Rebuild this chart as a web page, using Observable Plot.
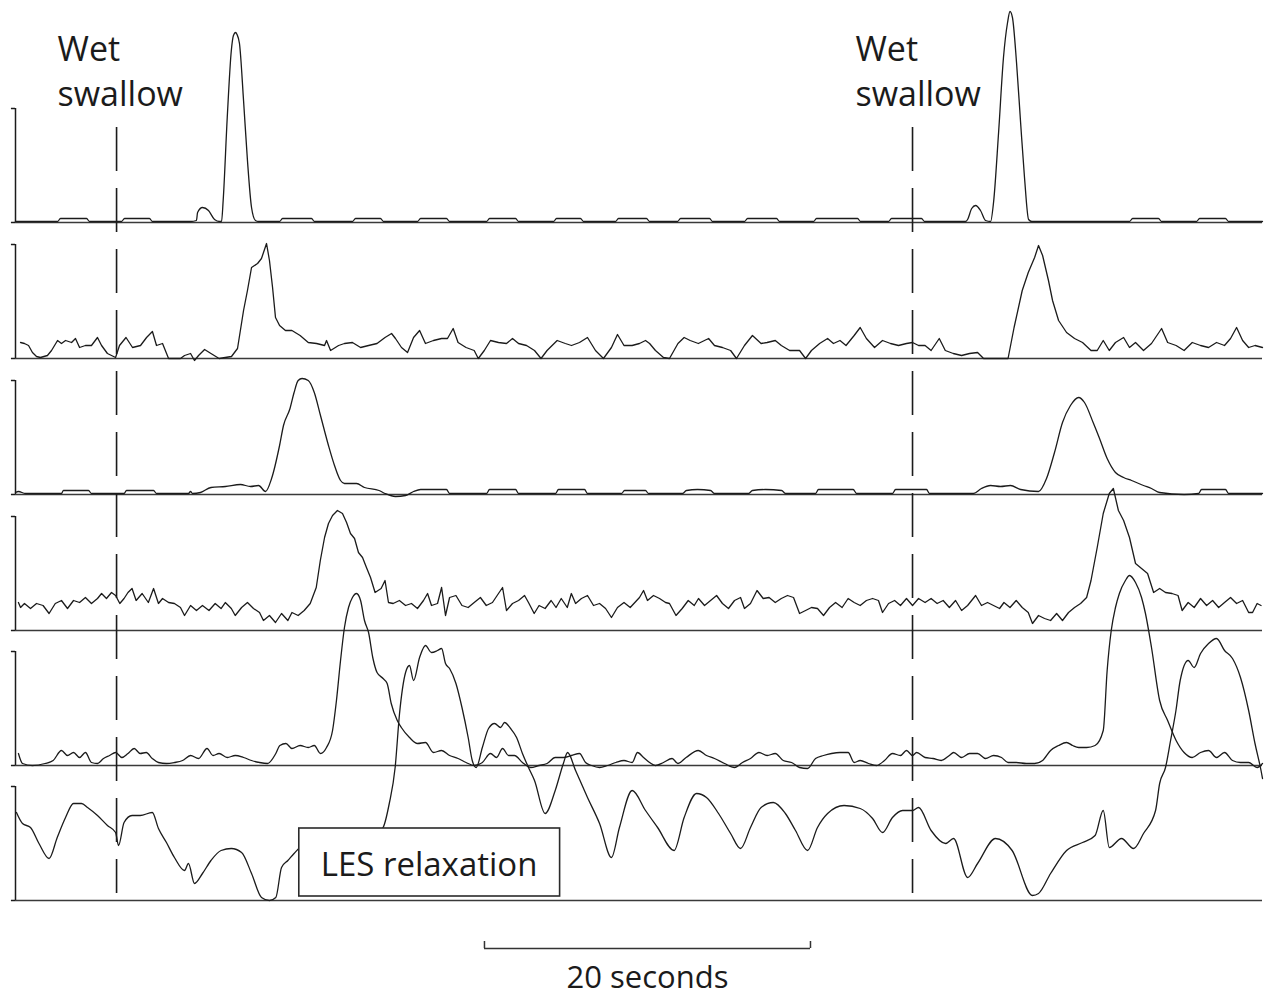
<!DOCTYPE html>
<html><head><meta charset="utf-8">
<script src="https://cdn.jsdelivr.net/npm/d3@7"></script>
<script src="https://cdn.jsdelivr.net/npm/@observablehq/plot@0.6"></script>
<style>body{margin:0;background:#fff}</style>
</head><body><div id="chart"></div>
<script>
const channels = ["P1", "P2", "P3", "P4", "P5", "LES"];

const ch1 = [[0,1],[2.58,1],[2.76,4],[4.36,4],[4.54,1],[6.50,1],[6.69,4],[8.22,4],[8.40,1],[10.74,1],[11.10,2],[11.17,10],[11.47,15],[11.84,12],[12.21,3],[12.52,1],[12.64,1],[12.74,22],[12.99,105],[13.24,172],[13.37,187],[13.50,190],[13.59,188],[13.74,179],[13.99,122],[14.23,62],[14.48,15],[14.72,2],[14.9,1],[16.20,1],[16.38,4],[18.16,4],[18.34,1],[20.67,1],[20.86,4],[22.39,4],[22.58,1],[24.66,1],[24.85,4],[26.44,4],[26.63,1],[28.90,1],[29.08,4],[30.68,4],[30.86,1],[33.01,1],[33.19,4],[34.66,4],[34.85,1],[36.81,1],[36.99,4],[38.71,4],[38.90,1],[40.61,1],[40.80,4],[42.58,4],[42.76,1],[44.72,1],[44.91,4],[46.69,4],[46.87,1],[48.96,1],[49.14,4],[51.66,4],[51.84,1],[53.56,1],[53.74,4],[55.58,4],[55.77,1],[58.28,1],[58.41,3],[58.66,14],[58.90,17],[59.20,12],[59.51,2],[59.82,1],[60.00,20],[60.31,90],[60.61,165],[60.86,200],[61.01,211],[61.16,205],[61.41,160],[61.66,100],[61.90,45],[62.15,3],[62.35,1],[68.34,1],[68.53,4],[70.12,4],[70.31,1],[72.45,1],[72.64,4],[74.23,4],[74.42,1],[76.5,1]];

const ch2 = [[0.31,16],[0.55,15],[0.80,13],[1.04,6],[1.29,2],[1.53,1],[1.96,3],[2.21,8],[2.58,18],[2.82,15],[3.07,18],[3.44,16],[3.68,20],[3.93,11],[4.29,13],[4.66,13],[5.03,21],[5.28,13],[5.64,5],[6.14,1],[6.38,13],[6.78,21],[7.18,11],[7.67,13],[8.04,21],[8.40,27],[8.65,13],[9.02,15],[9.39,0],[10.12,0],[10.37,3],[10.74,5],[10.98,-2],[11.23,3],[11.60,9],[11.99,5],[12.49,0],[13.25,2],[13.62,10],[13.99,48],[14.23,68],[14.48,91],[14.85,95],[15.09,100],[15.40,115],[15.58,98],[15.77,71],[15.95,41],[16.20,33],[16.56,28],[16.96,28],[17.46,23],[17.96,16],[18.47,15],[18.96,13],[19.08,18],[19.33,8],[19.82,13],[20.18,15],[20.67,16],[21.17,11],[21.66,13],[22.18,15],[22.67,21],[23.07,25],[23.31,20],[23.68,11],[24.05,6],[24.42,21],[24.79,28],[25.15,15],[25.64,18],[26.14,20],[26.50,20],[26.85,30],[27.15,16],[27.64,11],[28.14,8],[28.39,0],[28.76,8],[29.14,18],[29.63,16],[30.12,15],[30.49,20],[30.86,15],[31.35,13],[31.84,8],[32.24,0],[32.61,8],[33.23,18],[33.73,15],[34.11,13],[34.60,16],[35.09,21],[35.58,8],[36.07,0],[36.56,11],[36.93,24],[37.33,13],[37.83,13],[38.28,15],[38.65,18],[38.90,15],[39.26,8],[39.75,1],[40.12,0],[40.64,15],[41.02,21],[41.39,18],[41.89,15],[42.52,20],[42.88,13],[43.37,11],[43.87,8],[44.23,0],[44.72,13],[45.21,23],[45.74,15],[46.11,16],[46.61,18],[46.98,13],[47.49,8],[48.10,8],[48.47,0],[48.83,8],[49.33,15],[49.82,20],[50.18,15],[50.58,18],[50.95,13],[51.45,23],[51.82,31],[52.20,20],[52.70,11],[53.19,18],[53.68,15],[54.17,13],[54.66,15],[55.03,16],[55.40,13],[55.80,13],[56.17,8],[56.67,20],[57.04,8],[57.53,5],[58.04,3],[58.53,5],[59.02,6],[59.39,0],[60.89,0],[61.26,31],[61.76,68],[62.13,86],[62.52,101],[62.76,113],[63.01,103],[63.37,78],[63.62,58],[63.99,38],[64.48,26],[64.97,20],[65.46,16],[65.98,8],[66.36,8],[66.73,18],[67.10,8],[67.48,16],[67.98,21],[68.34,11],[68.71,16],[69.20,8],[69.69,15],[70.31,30],[70.68,16],[71.20,13],[71.69,8],[72.19,16],[72.70,13],[73.19,11],[73.68,16],[74.17,13],[74.54,20],[74.91,31],[75.28,18],[75.65,11],[76.04,13],[76.50,11]];

const ch3 = [[0,2],[0.18,3],[0.61,1],[2.82,1],[2.94,4],[4.48,4],[4.66,1],[6.66,1],[6.81,4],[8.47,4],[8.65,1],[10.61,1],[10.74,3],[10.86,1],[11.35,2],[11.99,7],[12.88,8],[13.80,10],[14.42,8],[14.91,9],[15.34,3],[15.71,16],[16.20,49],[16.44,69],[16.84,86],[17.09,102],[17.34,114],[17.58,116],[17.96,114],[18.33,102],[18.71,79],[19.20,49],[19.57,29],[19.94,14],[20.18,11],[20.92,11],[21.41,7],[22.30,4],[22.67,1],[23.31,-2],[23.93,-1],[24.42,3],[24.85,5],[26.44,5],[26.63,1],[28.90,1],[29.08,5],[30.68,5],[30.86,1],[33.13,1],[33.31,5],[34.91,5],[35.09,1],[37.18,1],[37.36,4],[38.65,4],[38.83,1],[40.92,1],[41.16,4],[41.84,5],[42.64,4],[42.88,1],[44.97,1],[45.21,4],[46.01,5],[47.00,4],[47.24,1],[49.08,1],[49.26,5],[51.39,5],[51.60,1],[53.80,1],[53.99,5],[55.89,5],[56.07,1],[58.77,1],[59.26,6],[59.82,9],[60.43,8],[61.04,9],[61.66,5],[62.76,3],[63.25,16],[63.74,42],[64.23,72],[64.72,89],[65.22,97],[65.58,92],[66.11,72],[66.48,57],[66.97,36],[67.48,22],[67.98,17],[68.47,14],[69.20,9],[69.69,6],[70.19,2],[71.69,0],[72.58,1],[72.76,5],[74.23,5],[74.42,1],[76.50,1]];

const ch4 = [[0.18,28],[0.31,23],[0.55,27],[0.92,22],[1.29,27],[1.69,25],[2.06,17],[2.44,27],[2.82,30],[3.19,22],[3.56,30],[3.93,28],[4.29,33],[4.66,27],[5.03,32],[5.28,37],[5.58,32],[5.89,38],[6.14,35],[6.40,27],[6.66,32],[6.90,38],[7.15,42],[7.40,30],[7.77,37],[8.15,28],[8.47,42],[8.77,27],[9.02,32],[9.39,28],[9.75,27],[10.12,23],[10.37,15],[10.74,25],[11.10,20],[11.47,25],[11.87,20],[12.25,27],[12.61,22],[12.87,28],[13.24,22],[13.48,15],[13.87,23],[14.23,28],[14.60,22],[14.97,18],[15.21,10],[15.58,15],[15.95,8],[16.32,17],[16.71,10],[16.96,18],[17.34,15],[17.71,20],[18.08,27],[18.45,43],[18.70,70],[18.96,93],[19.20,107],[19.45,115],[19.75,120],[20.06,117],[20.31,108],[20.55,97],[20.80,92],[21.04,78],[21.29,73],[21.53,63],[21.78,53],[22.06,38],[22.43,42],[22.67,50],[22.88,28],[23.17,27],[23.55,30],[23.93,25],[24.29,27],[24.66,22],[25.03,30],[25.28,37],[25.52,25],[25.89,27],[26.14,43],[26.38,15],[26.63,33],[27.02,35],[27.39,25],[27.77,23],[28.14,28],[28.52,33],[28.88,25],[29.26,28],[29.63,37],[29.88,43],[30.12,20],[30.49,27],[30.86,30],[31.23,35],[31.47,28],[31.82,17],[32.12,25],[32.49,22],[32.86,30],[33.16,23],[33.48,32],[33.85,23],[34.10,37],[34.36,27],[34.72,32],[35.09,35],[35.46,25],[35.83,27],[36.20,22],[36.56,13],[36.93,23],[37.33,28],[37.71,23],[38.28,33],[38.53,40],[38.77,30],[39.14,35],[39.51,32],[39.88,28],[40.12,27],[40.52,15],[40.90,22],[41.27,30],[41.64,25],[41.90,32],[42.27,25],[42.64,30],[43.01,35],[43.37,27],[43.74,22],[44.11,30],[44.48,33],[44.72,22],[45.09,27],[45.49,40],[45.87,32],[46.23,33],[46.61,28],[46.98,32],[47.36,35],[47.73,33],[48.10,17],[48.47,20],[48.83,23],[49.20,22],[49.57,15],[49.94,23],[50.31,28],[50.71,23],[51.08,32],[51.45,28],[51.82,25],[52.20,30],[52.58,32],[52.94,30],[53.19,18],[53.56,27],[53.93,30],[54.29,25],[54.66,32],[55.03,25],[55.40,32],[55.80,28],[56.17,32],[56.54,27],[56.91,30],[57.29,23],[57.67,30],[58.04,20],[58.41,25],[58.90,35],[59.26,25],[59.63,28],[60.00,25],[60.37,22],[60.64,28],[61.01,23],[61.39,30],[61.76,23],[62.13,18],[62.39,7],[62.76,15],[63.13,12],[63.50,10],[63.87,17],[64.23,10],[64.60,18],[64.97,23],[65.34,27],[65.71,33],[65.98,50],[66.36,83],[66.73,117],[67.10,137],[67.35,142],[67.66,120],[67.98,110],[68.34,93],[68.71,67],[69.08,62],[69.45,57],[69.82,38],[70.19,42],[70.55,38],[70.95,37],[71.32,35],[71.57,20],[71.94,28],[72.31,23],[72.70,32],[73.07,25],[73.44,30],[73.81,23],[74.17,28],[74.54,33],[74.91,27],[75.28,30],[75.65,18],[75.89,18],[76.17,27],[76.41,25]];

const ch5 = [[0.18,12],[0.43,2],[1.04,0],[1.81,2],[2.31,5],[2.82,15],[3.19,10],[3.56,13],[3.93,8],[4.29,13],[4.66,3],[5.03,2],[5.40,7],[5.77,10],[6.14,13],[6.53,8],[6.90,12],[7.28,17],[7.65,12],[8.02,13],[8.39,7],[8.77,3],[9.26,2],[9.75,3],[10.25,5],[10.74,10],[11.23,7],[11.75,17],[12.12,10],[12.49,12],[12.99,8],[13.48,10],[13.99,8],[14.48,5],[14.97,3],[15.46,2],[15.97,12],[16.22,20],[16.59,22],[16.96,17],[17.46,20],[17.96,18],[18.33,20],[18.71,12],[19.08,18],[19.45,35],[19.69,65],[19.94,105],[20.18,138],[20.43,158],[20.67,168],[20.92,172],[21.17,165],[21.41,145],[21.66,133],[21.93,107],[22.18,93],[22.55,87],[22.80,82],[23.05,62],[23.42,45],[23.67,38],[24.17,28],[24.66,22],[25.15,23],[25.64,13],[26.14,15],[26.63,10],[27.15,7],[27.64,3],[28.14,0],[28.64,3],[29.14,12],[29.51,8],[29.88,17],[30.25,10],[30.61,10],[31.10,3],[31.60,-2],[32.12,0],[32.61,2],[33.11,8],[33.61,8],[34.11,10],[34.60,12],[34.97,3],[35.34,0],[35.83,-2],[36.32,0],[36.83,3],[37.33,5],[37.83,3],[38.16,13],[38.53,8],[38.90,3],[39.26,0],[39.75,3],[40.28,7],[40.64,2],[41.14,8],[41.89,15],[42.39,10],[42.88,7],[43.50,2],[44.11,-2],[44.60,3],[45.09,7],[45.61,13],[46.11,10],[46.61,12],[47.10,5],[47.61,3],[48.10,-2],[48.59,-3],[49.08,7],[49.57,10],[50.06,12],[50.58,13],[51.08,13],[51.45,3],[51.82,5],[52.33,2],[52.82,0],[53.31,5],[53.80,12],[54.29,10],[54.66,15],[55.03,10],[55.28,13],[55.80,8],[56.29,7],[56.79,5],[57.29,10],[57.55,13],[58.04,8],[58.53,12],[59.02,12],[59.51,7],[60.00,10],[60.49,8],[60.89,3],[61.39,3],[62.01,2],[62.52,2],[63.01,5],[63.50,15],[63.99,20],[64.48,23],[64.85,20],[65.22,18],[65.71,18],[66.23,20],[66.73,35],[66.97,95],[67.22,135],[67.48,158],[67.72,172],[68.09,185],[68.34,190],[68.71,183],[69.08,168],[69.32,152],[69.69,118],[70.19,65],[70.68,45],[71.20,25],[71.69,13],[72.19,8],[72.70,13],[73.19,15],[73.68,8],[74.17,13],[74.66,5],[75.15,3],[75.65,3],[76.17,-2],[76.50,2]];

const ch6 = [[0.06,88],[0.43,77],[0.92,73],[1.44,57],[2.06,42],[2.56,63],[3.07,83],[3.56,97],[4.05,97],[4.42,93],[5.03,85],[5.64,75],[6.14,68],[6.32,55],[6.66,78],[7.15,85],[7.65,85],[8.39,88],[8.77,72],[9.26,58],[9.75,43],[10.37,30],[10.61,37],[10.98,17],[11.47,27],[11.99,40],[12.61,50],[13.24,52],[13.87,48],[14.48,27],[15.09,3],[15.58,0],[15.97,3],[16.32,33],[16.71,40],[17.09,47],[17.79,58],[19.33,66],[20.86,62],[22.09,67],[22.55,73],[22.93,97],[23.29,133],[23.56,187],[23.93,228],[24.17,235],[24.42,220],[24.79,243],[25.15,255],[25.52,248],[25.89,250],[26.14,252],[26.38,237],[26.63,232],[27.02,217],[27.39,193],[27.77,163],[28.02,140],[28.26,133],[28.64,153],[29.02,172],[29.39,177],[29.76,173],[30.00,178],[30.37,172],[30.74,163],[31.10,147],[31.47,133],[31.84,120],[32.49,87],[33.11,110],[33.61,137],[33.87,148],[34.36,130],[35.09,103],[35.83,77],[36.56,43],[37.05,73],[37.83,110],[38.65,90],[39.39,73],[40.40,50],[41.02,83],[41.78,107],[42.39,103],[43.13,87],[43.87,67],[44.48,52],[45.09,73],[45.74,93],[46.49,98],[47.23,87],[47.85,70],[48.59,50],[49.20,73],[49.82,87],[50.83,95],[51.82,92],[52.58,82],[53.19,68],[53.80,83],[54.42,90],[55.03,90],[55.40,93],[56.17,70],[57.06,57],[57.55,62],[58.41,23],[59.02,37],[60.12,62],[61.14,50],[62.39,5],[62.76,7],[63.50,27],[64.48,50],[65.46,58],[66.23,65],[66.73,90],[67.10,53],[67.85,62],[68.59,52],[69.20,67],[69.94,90],[70.19,117],[70.55,133],[70.86,160],[71.19,190],[71.45,220],[71.94,240],[72.31,233],[72.70,247],[73.19,257],[73.68,262],[74.17,250],[74.66,242],[75.15,223],[75.65,190],[76.04,157],[76.41,130],[76.50,122]];

const traces = [ch1, ch2, ch3, ch4, ch5, ch6];
const swallowTimes = [6.2, 55.03];
const swallowLabelTimes = [2.58, 51.53];
const swallowWords = ["Wet", "swallow"];
const lesLabel = "LES relaxation";
const scaleBarTimes = [28.77, 48.77];
const scaleBarLabel = "20 seconds";

// ---- layout (vertical placement of each channel on the shared y scale) ----
const baseOffset = [678, 542, 406, 270, 135, 0];
const traceCurve = ["monotone-x", "linear", "monotone-x", "linear", "monotone-x", "monotone-x"];
const bracketSpan = 114;
const tMax = 76.5;

const chRows = channels.map((c, i) => ({ch: c, i, off: baseOffset[i]}));
const wordRows = swallowLabelTimes.flatMap(t => [
  {t, word: swallowWords[0], y: 840},
  {t, word: swallowWords[1], y: 795}
]);
const INK = "#1b1b1b";

const traceMarks = traces.map((tr, i) =>
  Plot.line(tr.map(([t, v]) => ({t, v})), {
    x: "t", y: d => d.v + baseOffset[i], curve: traceCurve[i],
    stroke: INK, strokeWidth: 1.3, strokeLinejoin: "round"
  })
);

const chart = Plot.plot({
  width: 1267,
  height: 995,
  marginLeft: 15,
  marginRight: 5,
  marginTop: 0,
  marginBottom: 95,
  x: {domain: [0, tMax], axis: null},
  y: {domain: [0, 900], axis: null},
  style: {fontFamily: "'Open Sans', sans-serif", background: "#fff"},
  marks: [
    // channel baselines
    Plot.ruleY(chRows, {y: "off", x1: 0, x2: tMax, stroke: "#3a3a3a", strokeWidth: 1.7}),
    // calibration brackets
    Plot.ruleX(chRows, {x: 0, y1: "off", y2: d => d.off + bracketSpan, stroke: INK, strokeWidth: 1.5}),
    Plot.ruleY(chRows, {y: d => d.off + bracketSpan, x1: -0.25, x2: 0, stroke: INK, strokeWidth: 1.5}),
    Plot.ruleY(chRows, {y: "off", x1: -0.25, x2: 0, stroke: INK, strokeWidth: 1.5}),
    // wet swallow markers
    Plot.ruleX(swallowTimes, {x: d => d, y1: 773, y2: 7, stroke: INK, strokeWidth: 1.6, strokeDasharray: "44,17"}),
    // pressure traces
    ...traceMarks,
    // LES relaxation box
    Plot.rect([lesLabel], {x1: 17.41, x2: 33.41, y1: 4, y2: 72, fill: "#fff", stroke: "#2a2a2a", strokeWidth: 1.6}),
    Plot.text([lesLabel], {x: 25.37, y: 25, text: d => d, fontSize: 33, fill: INK, lineAnchor: "bottom"}),
    // labels
    Plot.text(wordRows, {x: "t", y: "y", text: "word", textAnchor: "start", lineAnchor: "bottom", fontSize: 34, fill: INK}),
    // scale bar
    Plot.ruleY([-48], {y: d => d, x1: scaleBarTimes[0], x2: scaleBarTimes[1], stroke: "#333", strokeWidth: 1.5}),
    Plot.ruleX(scaleBarTimes, {x: d => d, y1: -48, y2: -41, stroke: "#333", strokeWidth: 1.5}),
    Plot.text([scaleBarLabel], {x: (scaleBarTimes[0] + scaleBarTimes[1]) / 2, y: -87, text: d => d, fontSize: 31, fill: INK, lineAnchor: "bottom"})
  ]
});
document.getElementById("chart").appendChild(chart);
</script>
</body></html>
